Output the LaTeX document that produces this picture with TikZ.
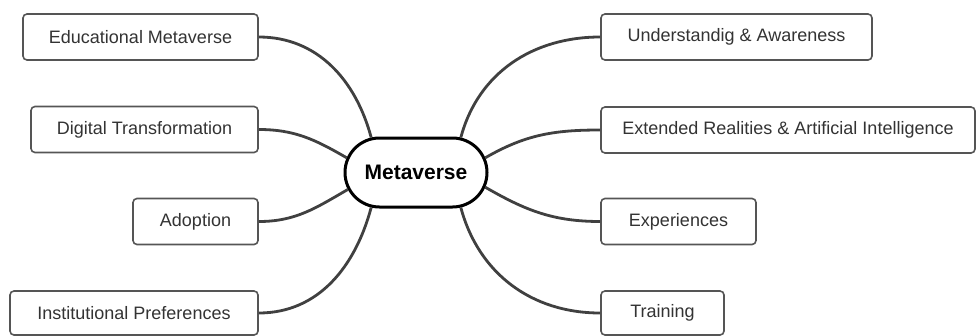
\documentclass[tikz,border=0pt]{standalone}
\usepackage{fontspec}
\setmainfont{Liberation Sans}
\usetikzlibrary{shapes.misc}
\definecolor{boxline}{HTML}{555555}
\definecolor{txt}{HTML}{333333}
\definecolor{conn}{HTML}{404040}
\tikzset{
  topic/.style={draw=boxline, line width=1.6pt, rounded corners=4pt, fill=white,
    text=txt, font=\fontsize{18}{21}\selectfont, inner sep=0pt},
  hub/.style={draw=black, line width=3pt, rounded rectangle, fill=white,
    minimum width=142pt, minimum height=69pt, inner sep=0pt,
    font=\fontsize{21}{24}\selectfont\bfseries},
  link/.style={draw=conn, line width=2.8pt}
}
\begin{document}
\begin{tikzpicture}[x=1pt,y=-1pt]
\useasboundingbox (0,0) rectangle (977,335);
\node[hub] (c) at (416,172.5) {Metaverse};
\node[topic, minimum width=235pt, minimum height=46pt] (em) at (140.5,37) {Educational Metaverse};
\node[topic, minimum width=227pt, minimum height=46pt] (dt) at (144.5,129.5) {Digital Transformation};
\node[topic, minimum width=125pt, minimum height=46pt] (ad) at (195.5,221.5) {Adoption};
\node[topic, minimum width=248pt, minimum height=44pt] (ip) at (134,313) {Institutional Preferences};
\node[topic, minimum width=271pt, minimum height=46pt] (ua) at (736.5,37) {Understandig \& Awareness};
\node[topic, minimum width=374pt, minimum height=46pt] (er) at (788,130) {Extended Realities \& Artificial Intelligence};
\node[topic, minimum width=155pt, minimum height=46pt] (ex) at (678.5,221.5) {Experiences};
\node[topic, minimum width=123pt, minimum height=44pt] (tr) at (662.5,313) {Training};
\draw[link] (c.142) to[out=105,in=0] (em.east);
\draw[link] (c.168) to[out=150,in=0] (dt.east);
\draw[link] (c.194) to[out=210,in=0] (ad.east);
\draw[link] (c.218) to[out=255,in=0] (ip.east);
\draw[link] (c.38) to[out=75,in=180] (ua.west);
\draw[link] (c.12) to[out=30,in=180] (er.west);
\draw[link] (c.-12) to[out=-30,in=180] (ex.west);
\draw[link] (c.-38) to[out=-75,in=180] (tr.west);
\end{tikzpicture}
\end{document}
